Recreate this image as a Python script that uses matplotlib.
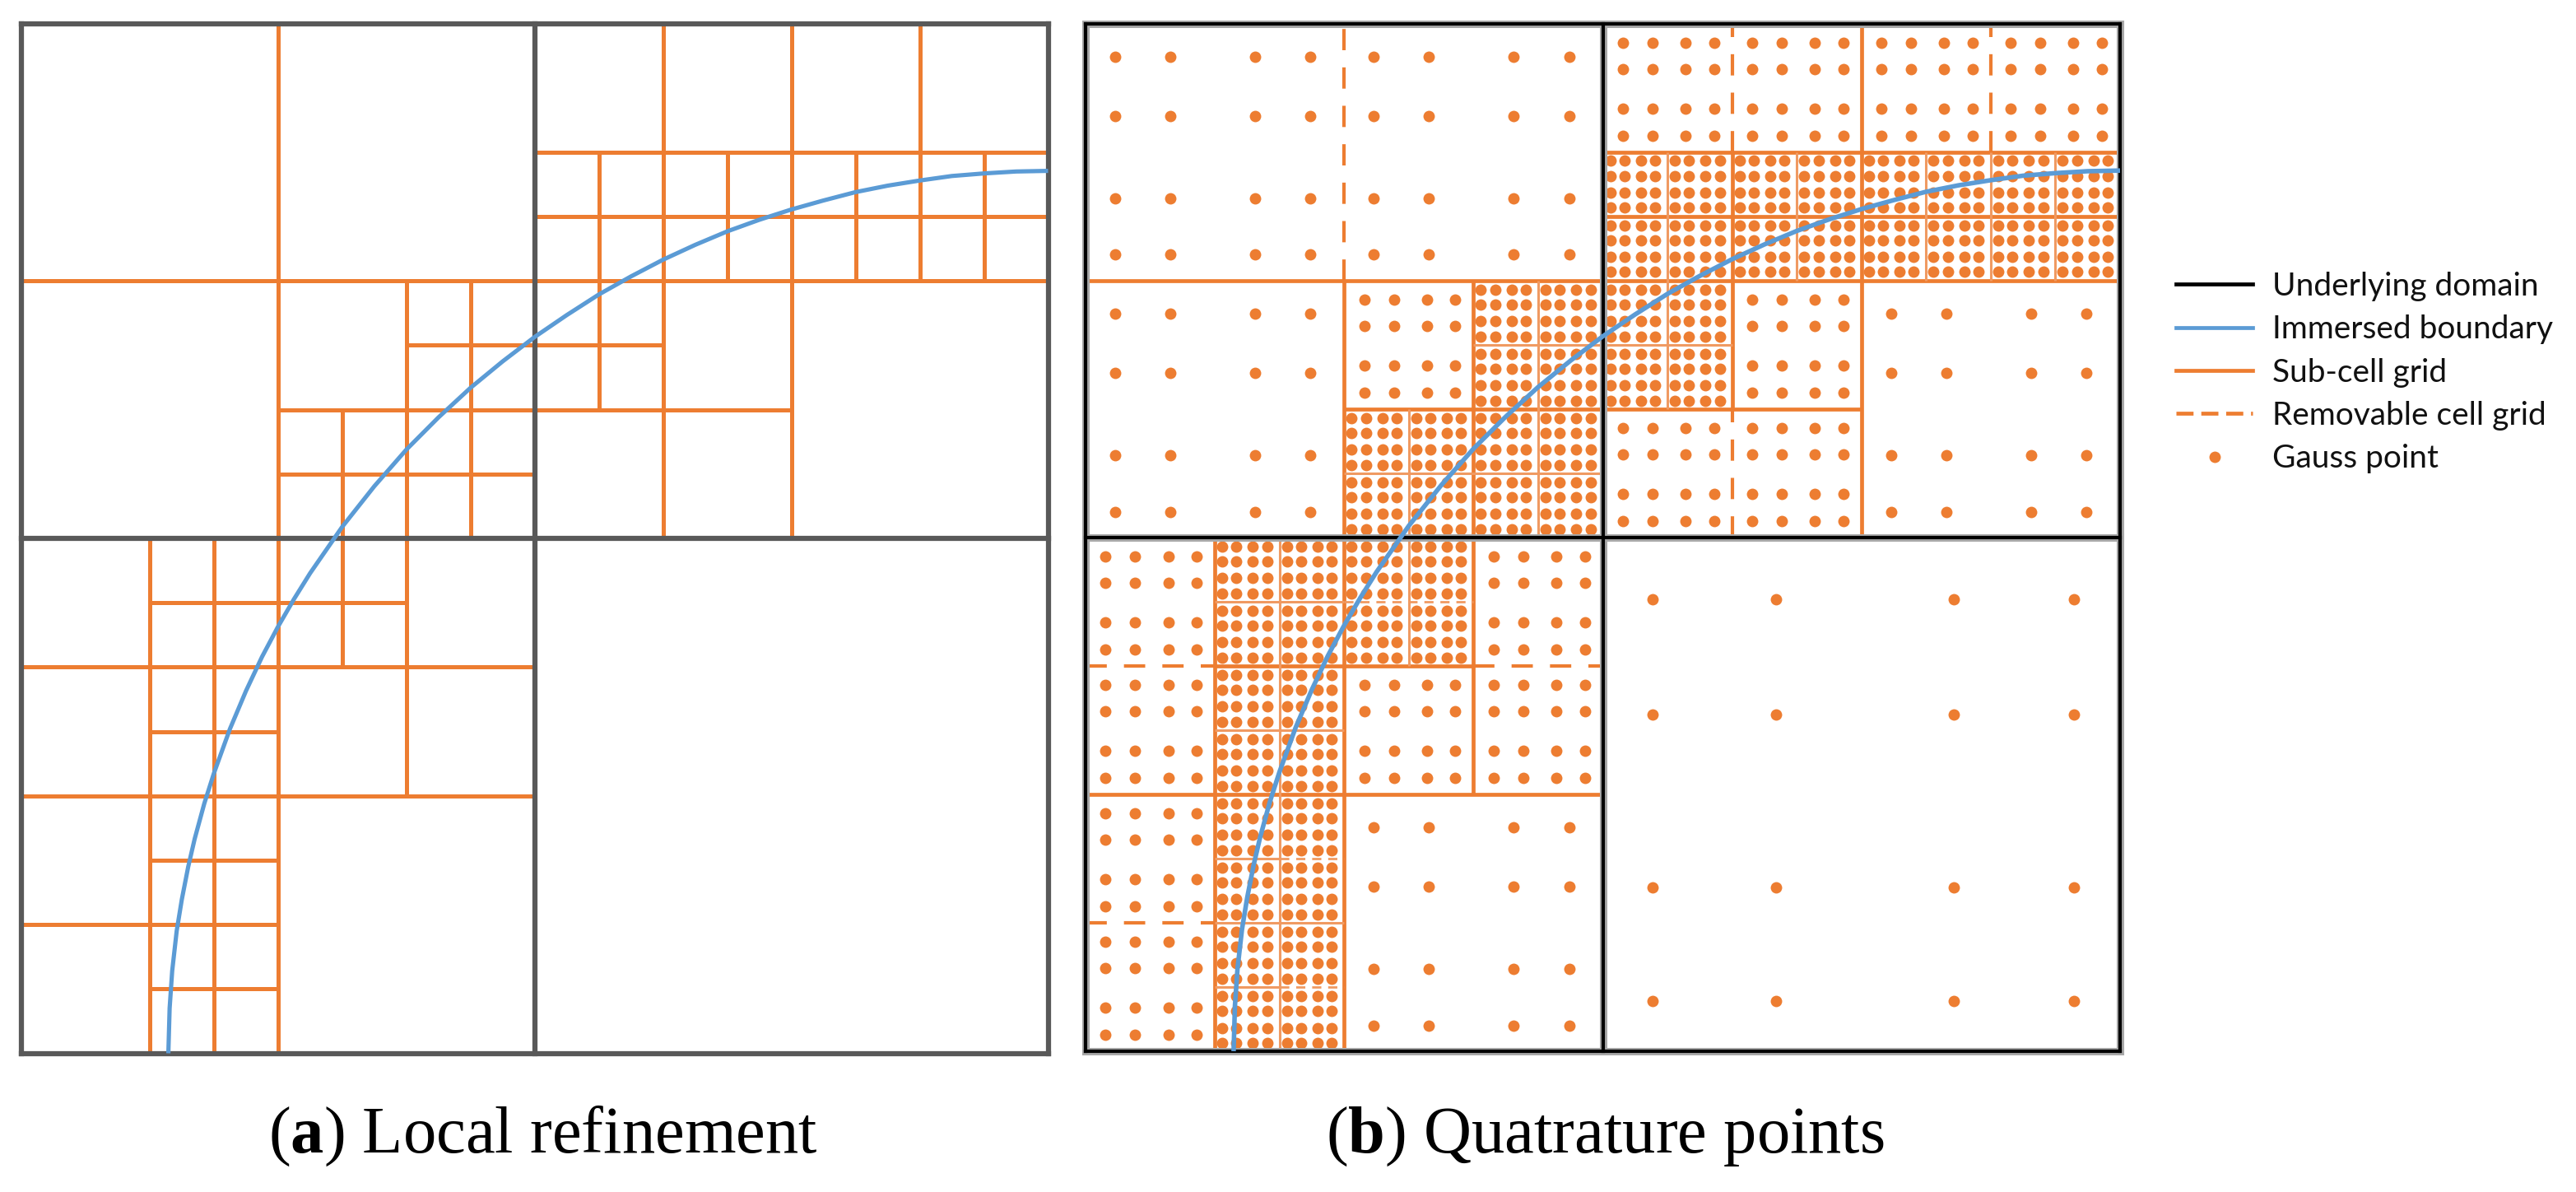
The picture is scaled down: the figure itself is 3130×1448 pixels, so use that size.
import matplotlib
matplotlib.use('Agg')
import matplotlib.pyplot as plt
from matplotlib.lines import Line2D

plt.rcParams['mathtext.fontset'] = 'custom'
plt.rcParams['mathtext.rm'] = 'Liberation Serif'
plt.rcParams['mathtext.bf'] = 'Liberation Serif:bold'

W = 3130
H = 1448

ORANGE = '#ED7D31'
LIGHT_ORANGE = '#F09A62'
BLUE = '#5B9BD5'
GREY = '#595959'

# immersed boundary (grid units, domain is 16 x 16)
curve_x = [2.29, 2.31, 2.35, 2.42, 2.5, 2.6, 2.7, 2.85, 3.0, 3.25, 3.5, 3.75, 4.0, 4.25, 4.5, 5.0, 5.5, 6.0, 6.5, 7.0, 7.5,
           8.0, 8.5, 9.0, 9.5, 10.0, 10.5, 11.0, 11.5, 12.0, 12.5, 13.0, 13.5, 14.0, 14.5, 15.0, 15.5, 16.0]
curve_y = [0.0, 0.7, 1.28, 1.9, 2.39, 2.9, 3.33, 3.88, 4.35, 5.04, 5.63, 6.16, 6.63, 7.06, 7.46, 8.18, 8.81, 9.38, 9.88, 10.34, 10.75,
           11.13, 11.47, 11.79, 12.07, 12.33, 12.56, 12.77, 12.95, 13.11, 13.25, 13.38, 13.48, 13.56, 13.63, 13.67, 13.70, 13.71]

# domain lines (x, y0, y1) and (y, x0, x1)
domain_v = [(0, 0, 16), (8, 0, 16), (16, 0, 16)]
domain_h = [(0, 0, 16), (8, 0, 16), (16, 0, 16)]

# (a) refinement grid
grid_v = [(4, 0, 16), (10, 8, 16), (12, 8, 16), (14, 12, 16), (15, 12, 14), (13, 12, 14),
          (11, 12, 14), (9, 10, 14), (6, 4, 12), (7, 8, 12), (5, 6, 10), (2, 0, 8), (3, 0, 8)]
grid_h = [(14, 8, 16), (13, 8, 16), (12, 0, 16), (11, 6, 10), (10, 4, 12), (9, 4, 8), (7, 2, 6),
          (6, 0, 8), (5, 2, 4), (4, 0, 8), (3, 2, 4), (2, 0, 4), (1, 2, 4)]

# (b) same grid split into thick, thin and removable parts
sub_v = [(4, 0, 12), (10, 10, 14), (12, 8, 16), (6, 4, 12), (2, 0, 8)]
sub_v_thin = [(14, 12, 14), (15, 12, 14), (13, 12, 14), (11, 12, 14), (9, 10, 14), (7, 8, 12), (5, 6, 10), (3, 0, 8)]
sub_h = [(14, 8, 16), (12, 0, 16), (10, 4, 12), (4, 0, 8), (6, 2, 6), (13, 8, 16)]
sub_h_thin = [(11, 6, 10), (9, 4, 8), (5, 2, 4), (2, 2, 4), (7, 2, 4), (3, 2, 3), (1, 2, 3)]
rem_v = [(4, 12, 16), (10, 14, 16), (14, 14, 16), (10, 8, 10)]
rem_h = [(6, 0, 2), (6, 6, 8), (2, 0, 2)]
rem_h_thin = [(7, 4, 6), (3, 3, 4), (1, 3, 4)]

# quadrature cells: lower left corners per cell size
cells_8 = [(8, 0)]
cells_4 = [(0, 12), (4, 12), (0, 8), (12, 8), (4, 0)]
cells_2 = [(8, 14), (10, 14), (12, 14), (14, 14), (4, 10), (10, 10), (8, 8), (10, 8),
           (0, 6), (6, 6), (0, 4), (4, 4), (6, 4), (0, 2), (0, 0)]
cells_1 = [(x, y) for y in (12, 13) for x in range(8, 16)] + \
          [(x, y) for y in (10, 11) for x in (6, 7, 8, 9)] + \
          [(x, y) for y in (8, 9) for x in (4, 5, 6, 7)] + \
          [(x, y) for y in (6, 7) for x in (2, 3, 4, 5)] + \
          [(x, y) for y in (0, 1, 2, 3, 4, 5) for x in (2, 3)]

# where the four points sit inside a cell, by cell size
offs_x = {8: [0.096, 0.335, 0.679, 0.911], 4: [0.114, 0.328, 0.656, 0.87],
          2: [0.155, 0.385, 0.64, 0.86], 1: [0.115, 0.335, 0.59, 0.81]}
offs_y = {8: [0.098, 0.319, 0.655, 0.879], 4: [0.10, 0.32, 0.64, 0.87],
          2: [0.125, 0.34, 0.645, 0.85], 1: [0.13, 0.365, 0.625, 0.86]}

legend_labels = ['Underlying domain', 'Immersed boundary', 'Sub-cell grid', 'Removable cell grid', 'Gauss point']


def draw_lines(ax, v, h, **kw):
    for x, y0, y1 in v:
        ax.plot([x, x], [y0, y1], **kw)
    for y, x0, x1 in h:
        ax.plot([x0, x1], [y, y], **kw)


def panel(fig, left, right, top, bottom):
    ax = fig.add_axes([left / W, 1 - bottom / H, (right - left) / W, (bottom - top) / H])
    ax.set_xlim(0, 16)
    ax.set_ylim(0, 16)
    ax.axis('off')
    return ax


def gauss_points(cells, size):
    xs = []
    ys = []
    for cx, cy in cells:
        for oy in offs_y[size]:
            for ox in offs_x[size]:
                xs.append(cx + ox * size)
                ys.append(cy + oy * size)
    return xs, ys


fig = plt.figure(figsize=(W / 100, H / 100), dpi=100)

# (a)
ax1 = panel(fig, 26, 1273.5, 28.5, 1279.5)
draw_lines(ax1, grid_v, grid_h, color=ORANGE, lw=3.6, clip_on=False, solid_capstyle='butt', zorder=2)
draw_lines(ax1, domain_v, domain_h, color=GREY, lw=4.5, clip_on=False, solid_capstyle='projecting', zorder=3)
ax1.plot(curve_x, curve_y, color=BLUE, lw=3.7, clip_on=False, solid_capstyle='butt', zorder=4)

# (b)
ax2 = panel(fig, 1319, 2576, 28.5, 1277)
draw_lines(ax2, sub_v, sub_h, color=ORANGE, lw=3.4, clip_on=False, solid_capstyle='butt', zorder=2)
draw_lines(ax2, sub_v_thin, sub_h_thin, color=LIGHT_ORANGE, lw=2.2, clip_on=False, solid_capstyle='butt', zorder=2)
draw_lines(ax2, rem_v, rem_h, color=ORANGE, lw=3.0, ls=(0, (6.2, 5)), clip_on=False, zorder=2)
draw_lines(ax2, [], rem_h_thin, color=LIGHT_ORANGE, lw=2.0, ls=(0, (4, 3)), clip_on=False, zorder=2)
for cells, size in [(cells_8, 8), (cells_4, 4), (cells_2, 2), (cells_1, 1)]:
    px, py = gauss_points(cells, size)
    ax2.plot(px, py, 'o', color=ORANGE, ms=10, mew=0, clip_on=False, zorder=3)
draw_lines(ax2, domain_v, domain_h, color='#a8a8a8', lw=6.5, clip_on=False, solid_capstyle='projecting', zorder=4)
draw_lines(ax2, domain_v, domain_h, color='black', lw=3.0, clip_on=False, solid_capstyle='projecting', zorder=5)
ax2.plot(curve_x, curve_y, color=BLUE, lw=4.0, clip_on=False, solid_capstyle='butt', zorder=6)

# legend
handles = [
    Line2D([], [], color='black', lw=3.4),
    Line2D([], [], color=BLUE, lw=3.4),
    Line2D([], [], color=ORANGE, lw=3.4),
    Line2D([], [], color=ORANGE, lw=3.4, ls=(0, (4.4, 2.0))),
    Line2D([], [], color=ORANGE, ls='none', marker='o', ms=10, mew=0),
]
fig.legend(handles, legend_labels, loc='upper left', bbox_to_anchor=(2644 / W, 1 - 330 / H),
           frameon=False, prop={'family': 'Lato', 'size': 28}, handlelength=2.4, handletextpad=0.6,
           labelspacing=0.42, borderpad=0, borderaxespad=0, numpoints=1, labelcolor='#111111')

# captions
fig.text(660 / W, 1 - 1400 / H, r'($\mathbf{a}$) Local refinement', family='Liberation Serif',
         fontsize=58, ha='center', va='baseline')
fig.text(1950 / W, 1 - 1400 / H, r'($\mathbf{b}$) Quatrature points', family='Liberation Serif',
         fontsize=58, ha='center', va='baseline')

fig.savefig('out.png', dpi=100, facecolor='white')
